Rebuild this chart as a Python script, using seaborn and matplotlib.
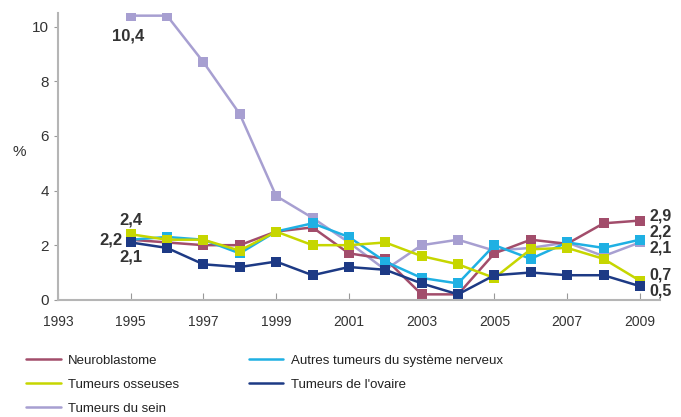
import pandas as pd
import seaborn as sns
import matplotlib.pyplot as plt
from matplotlib.lines import Line2D

# Values (% per year)
years = list(range(1995, 2010))
neuroblastome = [2.2, 2.1, 2.0, 2.0, 2.5, 2.65, 1.7, 1.5, 0.2, 0.2, 1.7, 2.2, 2.05, 2.8, 2.9]
autres_nerveux = [2.2, 2.3, 2.2, 1.7, 2.5, 2.8, 2.3, 1.4, 0.8, 0.6, 2.0, 1.5, 2.1, 1.9, 2.2]
osseuses = [2.4, 2.2, 2.2, 1.8, 2.5, 2.0, 2.0, 2.1, 1.6, 1.3, 0.8, 1.85, 1.9, 1.5, 0.7]
ovaire = [2.1, 1.9, 1.3, 1.2, 1.4, 0.9, 1.2, 1.1, 0.6, 0.2, 0.9, 1.0, 0.9, 0.9, 0.5]
sein = [10.4, 10.4, 8.7, 6.8, 3.8, 3.0, 2.1, 1.1, 2.0, 2.2, 1.8, 1.9, 2.1, 1.6, 2.1]

series_names = ['Neuroblastome', 'Autres tumeurs du système nerveux', 'Tumeurs osseuses',
                'Tumeurs de l\'ovaire', 'Tumeurs du sein']
series_values = [neuroblastome, autres_nerveux, osseuses, ovaire, sein]
colors = ['#a24d6b', '#1fb0e3', '#c6d600', '#1d3a85', '#a79fd1']

# Label values shown on the chart
start_labels = ['2,2', '2,4', '2,1', '10,4']
end_labels = ['2,9', '2,2', '2,1', '0,7', '0,5']

df = pd.DataFrame({
    'year': years * len(series_names),
    'value': sum(series_values, []),
    'serie': [n for n in series_names for _ in years],
})

sns.set_style('white')
plt.rcParams['font.family'] = ['Liberation Sans', 'DejaVu Sans']

fig = plt.figure(figsize=(6.81, 4.17), dpi=100)
ax = fig.add_axes([0.085, 0.281, 0.884, 0.688])

# draw order: sein behind the others
order = [4, 0, 1, 2, 3]
for i in order:
    sub = df[df['serie'] == series_names[i]]
    sns.lineplot(data=sub, x='year', y='value', ax=ax, color=colors[i], lw=1.8,
                 marker='s', markersize=6.5, markeredgewidth=0, legend=False)

ax.set_xlim(1993, 2009.55)
ax.set_ylim(0, 10.5)
ax.set_xticks(range(1993, 2010, 2))
ax.set_yticks(range(0, 11, 2))
ax.set_xlabel('')
ax.set_ylabel('%', rotation=0, fontsize=11, color='#333333')
ax.yaxis.set_label_coords(-0.065, 0.49)
for s in ['top', 'right']:
    ax.spines[s].set_visible(False)
for s in ['left', 'bottom']:
    ax.spines[s].set_color('#b5b5b5')
    ax.spines[s].set_linewidth(1.5)
ax.tick_params(axis='x', direction='in', length=5, color='#999999', labelsize=10,
               labelcolor='#333333', pad=11, bottom=True)
ax.tick_params(axis='y', direction='out', length=3, color='#999999', labelsize=11,
               labelcolor='#333333', left=True)

bold = dict(fontsize=12, fontweight='bold', color='#333333')
# left annotations
ax.annotate(start_labels[3], (years[0], sein[0]), xytext=(-2, -9), textcoords='offset points',
            ha='center', va='top', **bold)
ax.annotate(start_labels[1], (years[0], osseuses[0]), xytext=(0, 5), textcoords='offset points',
            ha='center', va='bottom', **bold)
ax.annotate(start_labels[0], (years[0], neuroblastome[0]), xytext=(-6, 0), textcoords='offset points',
            ha='right', va='center', **bold)
ax.annotate(start_labels[2], (years[0], ovaire[0]), xytext=(0, -5), textcoords='offset points',
            ha='center', va='top', **bold)

# right annotations, nudged apart vertically
end_bold = dict(bold, fontsize=11.5)
end_y = [neuroblastome[-1] + 0.17, autres_nerveux[-1] + 0.29, sein[-1] - 0.2,
         osseuses[-1] + 0.21, ovaire[-1] - 0.17]
for lab, yv in zip(end_labels, end_y):
    ax.annotate(lab, (years[-1], yv), xytext=(7, 0), textcoords='offset points',
                ha='left', va='center', annotation_clip=False, **end_bold)

handles = [Line2D([], [], color=c, lw=1.8) for c in colors]
# column-wise fill so rows read: Neuro/Autres, Osseuses/Ovaire, Sein
leg_order = [0, 2, 4, 1, 3]
fig.legend([handles[i] for i in leg_order], [series_names[i] for i in leg_order],
           loc='upper left', bbox_to_anchor=(0.031, 0.163), ncol=2, frameon=False,
           fontsize=9.5, handlelength=2.6, handletextpad=0.55, columnspacing=5.3,
           labelspacing=0.9, labelcolor='#222222', borderaxespad=0)

fig.savefig('out.png', dpi=100)
